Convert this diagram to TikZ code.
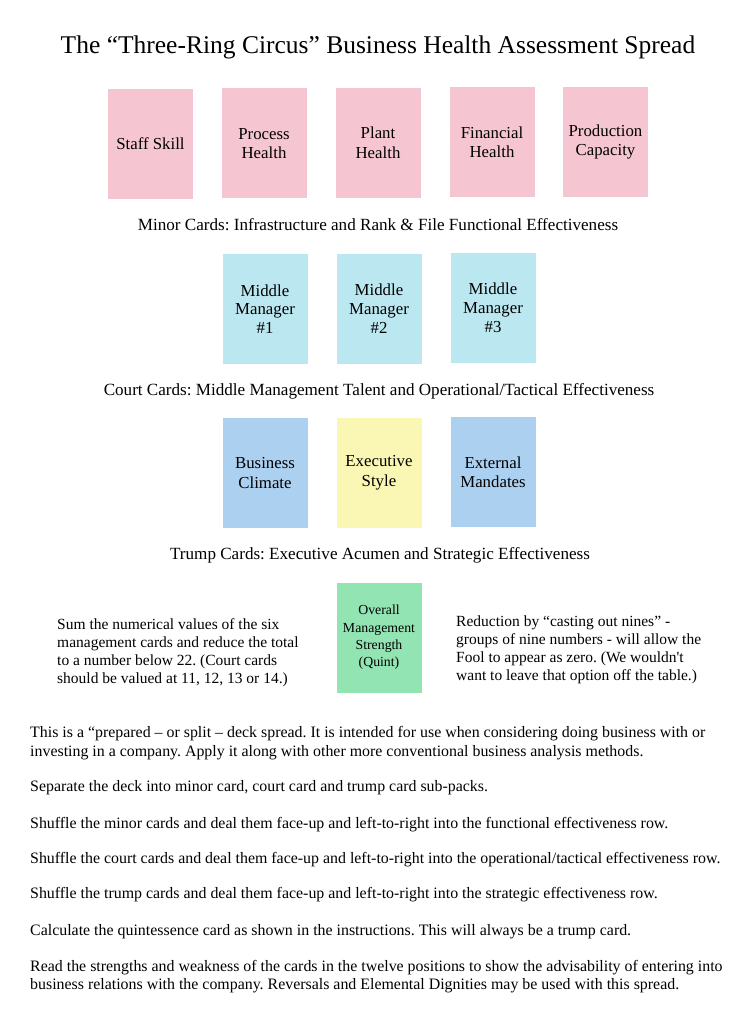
\documentclass[tikz,border=0pt]{standalone}
\usepackage{fontspec}
\setmainfont{Liberation Serif}
\frenchspacing
\definecolor{cpink}{RGB}{245,198,210}
\definecolor{ccyan}{RGB}{187,231,241}
\definecolor{cblue}{RGB}{172,208,240}
\definecolor{cyellow}{RGB}{250,246,180}
\definecolor{cgreen}{RGB}{146,228,178}
\begin{document}
\begin{tikzpicture}[x=1pt,y=-1pt,
  card/.style={minimum width=85pt,minimum height=110pt,inner sep=0pt,align=center,
    font=\fontsize{16.8}{19.5}\selectfont},
  pinkcard/.style={card,fill=cpink},
  cyancard/.style={card,fill=ccyan,font=\fontsize{16.8}{18.8}\selectfont},
  bluecard/.style={card,fill=cblue},
  yellowcard/.style={card,fill=cyellow},
  greencard/.style={card,fill=cgreen,font=\fontsize{13.8}{17.3}\selectfont},
  titletext/.style={anchor=base,inner sep=0pt,font=\fontsize{25.5}{30}\selectfont},
  caption/.style={anchor=base,inner sep=0pt,font=\fontsize{17.1}{20}\selectfont},
  side/.style={anchor=base west,inner sep=0pt,font=\fontsize{15.5}{18}\selectfont},
  body/.style={anchor=base west,inner sep=0pt,font=\fontsize{15.9}{18}\selectfont}]
\useasboundingbox (0,0) rectangle (752,1024);
\fill[white] (0,0) rectangle (752,1024);

\node[titletext] (title) at (378,54) {The “Three-Ring Circus” Business Health Assessment Spread};

% Minor cards
\node[pinkcard] (c1) at (150.5,144) {Staff Skill};
\node[pinkcard] (c2) at (264,143.5) {Process\\Health};
\node[pinkcard] (c3) at (378,143) {Plant\\Health};
\node[pinkcard] (c4) at (492,142.5) {Financial\\Health};
\node[pinkcard] (c5) at (605.5,142) {Production\\Capacity};
\node[caption] (minor) at (378,231) {Minor Cards: Infrastructure and Rank \& File Functional Effectiveness};

% Court cards
\node[cyancard] (m1) at (265,309) {Middle\\Manager\\\#1};
\node[cyancard] (m2) at (379,308.5) {Middle\\Manager\\\#2};
\node[cyancard] (m3) at (493,308) {Middle\\Manager\\\#3};
\node[caption] (court) at (379,395) {Court Cards: Middle Management Talent and Operational/Tactical Effectiveness};

% Trump cards
\node[bluecard] (t1) at (265,473) {Business\\Climate};
\node[yellowcard] (t2) at (379,472.5) {Executive\\Style};
\node[bluecard] (t3) at (493,472) {External\\Mandates};
\node[caption] (trump) at (380,559) {Trump Cards: Executive Acumen and Strategic Effectiveness};

% Quint
\node[greencard] (q) at (379,637.5) {\raisebox{-2pt}{\parbox{85pt}{\centering Overall\\Management\\Strength\\(Quint)}}};
\node[side] (l1) at (57,629) {Sum the numerical values of the six};
\node[side] (l2) at (57,647) {management cards and reduce the total};
\node[side] (l3) at (57,665) {to a number below 22. (Court cards};
\node[side] (l4) at (57,683) {should be valued at 11, 12, 13 or 14.)};
\node[side] (r1) at (456,626) {Reduction by “casting out nines” -};
\node[side] (r2) at (456,644) {groups of nine numbers - will allow the};
\node[side] (r3) at (456,662) {Fool to appear as zero. (We wouldn\textquotesingle t};
\node[side] (r4) at (456,680) {want to leave that option off the table.)};

% Instructions
\node[body] (p1a) at (30,737) {This is a “prepared – or split – deck spread. It is intended for use when considering doing business with or};
\node[body] (p1b) at (30,756) {investing in a company. Apply it along with other more conventional business analysis methods.};
\node[body] (p2) at (30,791) {Separate the deck into minor card, court card and trump card sub-packs.};
\node[body] (p3) at (30,828) {Shuffle the minor cards and deal them face-up and left-to-right into the functional effectiveness row.};
\node[body] (p4) at (30,863) {Shuffle the court cards and deal them face-up and left-to-right into the operational/tactical effectiveness row.};
\node[body] (p5) at (30,898) {Shuffle the trump cards and deal them face-up and left-to-right into the strategic effectiveness row.};
\node[body] (p6) at (30,935) {Calculate the quintessence card as shown in the instructions. This will always be a trump card.};
\node[body] (p7a) at (30,971) {Read the strengths and weakness of the cards in the twelve positions to show the advisability of entering into};
\node[body] (p7b) at (30,989) {business relations with the company. Reversals and Elemental Dignities may be used with this spread.};
\end{tikzpicture}
\end{document}
